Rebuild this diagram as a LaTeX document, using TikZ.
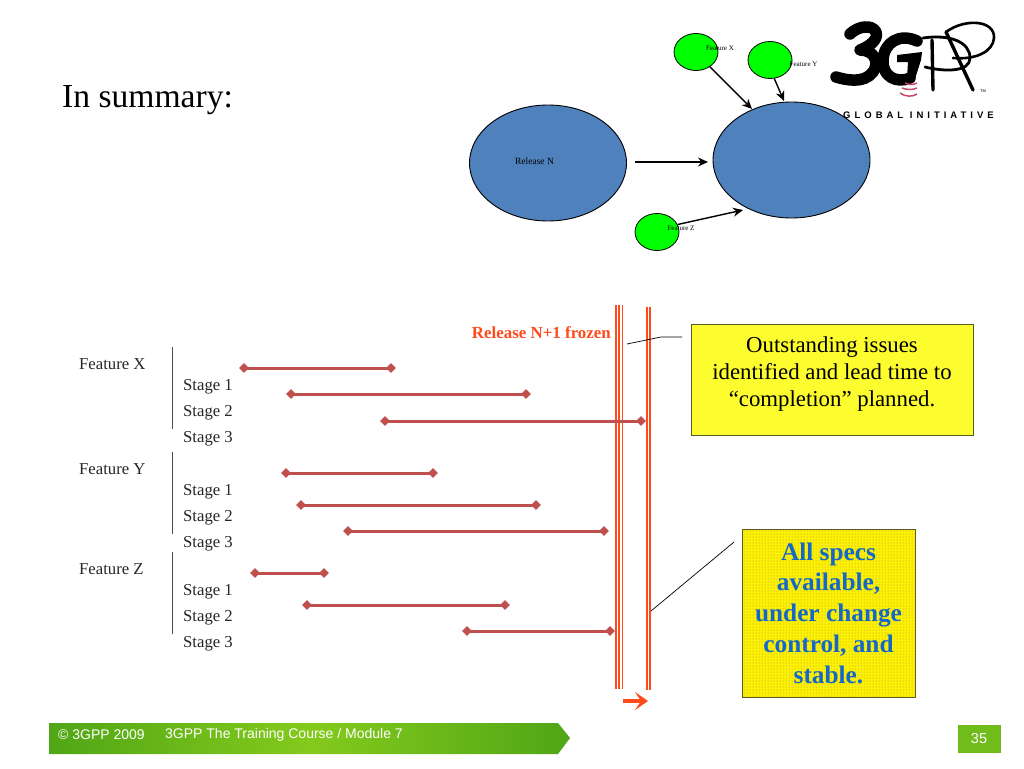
\documentclass[tikz,border=0pt]{standalone}
\usepackage{fontspec}
\setmainfont{Liberation Serif}
\newfontfamily\footfont{Liberation Sans}
\newfontfamily\logofont[LetterSpace=42]{Liberation Sans}
\usetikzlibrary{shapes.geometric, arrows.meta, patterns}
\definecolor{SumBlue}{HTML}{4F81BD}
\definecolor{SumGreen}{HTML}{00FF00}
\definecolor{SumBar}{HTML}{C0504D}
\definecolor{SumRed}{HTML}{FF4A1C}
\definecolor{SumYellow}{HTML}{FCFC2E}
\definecolor{SumOlive}{HTML}{5E5A24}
\definecolor{SumText}{HTML}{1468C8}
\definecolor{SumFoot}{HTML}{50A616}
\definecolor{SumFootMid}{HTML}{84CA1C}
\definecolor{SumLogoRed}{HTML}{C8486A}
\tikzset{
    % Blue release ellipse
    release/.style={
        ellipse,
        draw=black,
        fill=SumBlue,
        line width=0.9pt,
        inner sep=0pt,
        minimum width=157pt,
        minimum height=116pt
    },
    % Green feature ellipse
    feature/.style={
        ellipse,
        draw=black,
        fill=SumGreen,
        line width=0.8pt,
        inner sep=0pt,
        minimum width=44pt,
        minimum height=37pt
    },
    % Tiny label beside a feature
    tinylabel/.style={
        font=\fontsize{7}{8}\selectfont,
        inner sep=0pt
    },
    % Arrow style
    arrow/.style={
        -{Stealth[length=10pt,width=9pt]},
        line width=1.4pt,
        color=black
    },
    % Row labels
    rowlabel/.style={
        anchor=west,
        inner sep=0pt,
        font=\fontsize{16.7}{20}\selectfont,
        text=black!85
    },
    % Bar end
    barend/.style={
        diamond,
        fill=SumBar,
        inner sep=0pt,
        minimum size=10pt
    },
    % Bar line
    barline/.style={
        draw=SumBar,
        line width=3pt
    },
    % Bracket line
    bracket/.style={
        draw=black!70,
        line width=1pt
    },
    % Freeze line
    freeze/.style={
        draw=SumRed,
        line width=1.7pt
    },
    % Thin callout line
    callout/.style={
        draw=black,
        line width=0.7pt
    },
    % Yellow note
    notebox/.style={
        rectangle,
        draw=SumOlive,
        fill=SumYellow,
        line width=1pt,
        inner sep=0pt,
        align=center,
        text depth=16pt,
        font=\fontsize{22.8}{27.2}\selectfont
    },
    % Dotted yellow note
    dotbox/.style={
        rectangle,
        draw=SumOlive,
        preaction={fill=yellow},
        pattern=dots,
        pattern color=SumOlive!70,
        line width=1pt,
        inner sep=0pt,
        align=center,
        text=SumText,
        font=\fontsize{25.3}{30.7}\selectfont\bfseries
    },
    % Footer text
    foottext/.style={
        anchor=west,
        inner sep=0pt,
        text=white,
        font=\footfont\fontsize{14}{16}\selectfont
    },
    % Logo strokes
    logostroke/.style={
        draw=black,
        line cap=round,
        line join=round
    }
}
\begin{document}
\begin{tikzpicture}[x=1pt, y=-1pt]
    \useasboundingbox [fill=white] (0,0) rectangle (1024,768);

    % Logo
    \draw [logostroke, line width=11.5pt] (850,34) .. controls (858,26) and (872,24) .. (876,32)
        .. controls (879,40) and (868,47) .. (860,50)
        .. controls (874,50) and (880,62) .. (873,72)
        .. controls (864,84) and (846,80) .. (836,77);
    \draw [logostroke, line width=11.5pt] (917,41) .. controls (900,33) and (884,42) .. (883,60)
        .. controls (882,76) and (896,84) .. (910,78);
    \fill (897,55) -- (922,52) -- (921,60) -- (914,82) -- (907,78) -- (908,62) -- (897,62) -- cycle;
    \draw [logostroke, line width=2.8pt] (923,38) .. controls (950,34) and (970,42) .. (970,58)
        .. controls (970,72) and (945,72) .. (925,67);
    \draw [logostroke, line width=3.4pt] (932,40) -- (933,90);
    \draw [logostroke, line width=2.6pt] (946,32) .. controls (965,18) and (995,20) .. (994,38)
        .. controls (993,52) and (975,60) .. (953,58);
    \draw [logostroke, line width=3.4pt] (946,32) -- (973,90);
    \draw [draw=SumLogoRed, line width=1.5pt] (905,83) .. controls (909,85) and (913,85) .. (917,83);
    \draw [draw=SumLogoRed, line width=1.5pt] (902,88) .. controls (907,90) and (913,90) .. (917,88);
    \draw [draw=SumLogoRed, line width=1.5pt] (900,93) .. controls (905,97) and (913,97) .. (917,94);
    \node (logotm) [font=\footfont\fontsize{4}{5}\selectfont, inner sep=0pt] at (983,91) {TM};
    \node (logotext) [anchor=west, inner sep=0pt, font=\logofont\bfseries\fontsize{9.5}{11}\selectfont] at (843,115) {GLOBAL INITIATIVE};

    % Title
    \node (title) [anchor=west, inner sep=0pt, font=\fontsize{33.6}{40}\selectfont] at (62,100) {In summary:};

    % Release picture
    \node (relN) [release] at (548,163) {};
    \node (relNext) [release] at (791.5,160) {};
    \node (relNlabel) [inner sep=0pt, font=\fontsize{9.5}{11}\selectfont] at (534.5,161) {Release N};
    \node (featX) [feature] at (696,52) {};
    \node (featY) [feature] at (770,60) {};
    \node (featZ) [feature] at (657,232) {};
    \node (featXlabel) [tinylabel] at (720,48.5) {Feature X};
    \node (featYlabel) [tinylabel] at (803.5,64.5) {Feature Y};
    \node (featZlabel) [tinylabel] at (681,228.5) {Feature Z};

    \coordinate (tipN) at (708,162);
    \coordinate (tailN) at (635,162);
    \coordinate (tipX) at (752,109);
    \coordinate (tipY) at (784,101);
    \coordinate (tipZ) at (743,210);
    \draw [arrow] (tailN) -- (tipN);
    \draw [arrow] (featX.313) -- (tipX);
    \draw [arrow] (featY.283) -- (tipY);
    \draw [arrow] (featZ.20) -- (tipZ);

    % Freeze lines
    \foreach \xa in {615.8,619.2,622.5} {
        \draw [freeze] (\xa,305) -- (\xa,689);
    }
    \foreach \xa in {646.8,650.2} {
        \draw [freeze] (\xa,307) -- (\xa,690);
    }
    \coordinate (moveA) at (623,701);
    \coordinate (moveB) at (648,701);
    \draw [draw=SumRed, line width=4pt, -{Stealth[length=13pt,width=18pt,inset=6pt]}] (moveA) -- (moveB);
    \node (frozen) [anchor=east, inner sep=0pt, text=SumRed, font=\fontsize{16.9}{20}\selectfont\bfseries] at (611,332.5) {Release N+1 frozen};

    % Feature rows
    \foreach \lname/\lx/\ly/\ltext in {fx/79/364/Feature X, fy/79/469/Feature Y, fz/79/569/Feature Z,
        xa/183/387/Stage 1, xb/183/413/Stage 2, xc/183/439/Stage 3,
        ya/183/492/Stage 1, yb/183/518/Stage 2, yc/183/544/Stage 3,
        za/183/592/Stage 1, zb/183/618/Stage 2, zc/183/644/Stage 3} {
        \node (\lname) [rowlabel] at (\lx,\ly) {\ltext};
    }
    \foreach \ya in {347,452,552} {
        \draw [bracket] (172,\ya) -- (172,\ya+82);
    }

    % Stage bars
    \foreach \bname/\xa/\xb/\ya in {xa/244/391/368, xb/291/526/394, xc/385/641/421,
        ya/286/433/473, yb/301/536/505, yc/348/604/531,
        za/255/324/573, zb/307/505/605, zc/467/610/631} {
        \node (\bname s) [barend] at (\xa,\ya) {};
        \node (\bname e) [barend] at (\xb,\ya) {};
        \draw [barline] (\bname s.center) -- (\bname e.center);
    }

    % Notes
    \node (noteA) [notebox, minimum width=282pt, minimum height=111pt] at (832,379.5) {Outstanding issues\\identified and lead time to\\``completion'' planned.};
    \node (noteB) [dotbox, minimum width=173pt, minimum height=168pt] at (828.5,613) {All specs\\available,\\under change\\control, and\\stable.};
    \coordinate (calloutA) at (627,344);
    \coordinate (calloutB) at (661,337);
    \coordinate (calloutC) at (682,337);
    \coordinate (calloutD) at (651,611);
    \coordinate (calloutE) at (734,542);
    \draw [callout] (calloutA) -- (calloutB) -- (calloutC);
    \draw [callout] (calloutD) -- (calloutE);

    % Footer
    \path [left color=SumFoot, right color=SumFoot, middle color=SumFootMid] (49,723) -- (558,723) -- (570,738) -- (558,754) -- (49,754) -- cycle;
    \node (copyright) [foottext] at (58,735) {© 3GPP 2009};
    \node (course) [foottext] at (165,735) {3GPP The Training Course / Module 7};
    \node (pagenum) [rectangle, inner sep=0pt, minimum width=43pt, minimum height=28pt, fill=SumFootMid!60!SumFoot, text=white, font=\footfont\fontsize{14.5}{16}\selectfont] at (979,738.5) {35};
\end{tikzpicture}
\end{document}
